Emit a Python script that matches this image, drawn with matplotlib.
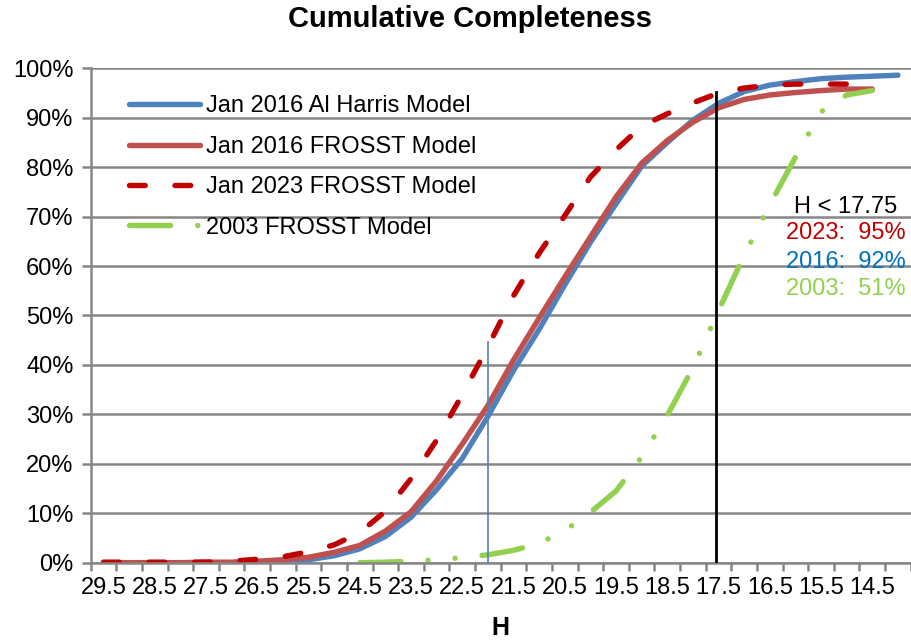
import matplotlib
matplotlib.use("Agg")
import matplotlib.pyplot as plt
from matplotlib.ticker import PercentFormatter
import numpy as np

plt.rcParams['font.family'] = ['Liberation Sans', 'DejaVu Sans']

# H magnitude bins (faint to bright, left to right)
h_bins = [29.5, 29.0, 28.5, 28.0, 27.5, 27.0, 26.5, 26.0, 25.5, 25.0, 24.5,
          24.0, 23.5, 23.0, 22.5, 22.0, 21.5, 21.0, 20.5, 20.0, 19.5, 19.0,
          18.5, 18.0, 17.5, 17.0, 16.5, 16.0, 15.5, 15.0, 14.5, 14.0]
h_labels = ['29.5', '28.5', '27.5', '26.5', '25.5', '24.5', '23.5', '22.5',
            '21.5', '20.5', '19.5', '18.5', '17.5', '16.5', '15.5', '14.5']

nan = np.nan
# cumulative completeness, percent
harris_2016 = [0, 0, 0, 0, 0, 0, 0.1, 0.2, 0.6, 1.4, 2.8, 5.3, 9.2, 14.8, 21.1,
               29.6, 38.9, 47.2, 56.2, 64.8, 72.6, 80.2, 85.0, 89.5, 92.9,
               95.3, 96.6, 97.3, 97.9, 98.2, 98.4, 98.6]
frosst_2016 = [0, 0, 0, 0, 0.1, 0.1, 0.3, 0.6, 1.1, 2.1, 3.5, 6.4, 10.3, 16.6,
               24.0, 31.8, 41.0, 49.5, 57.8, 65.9, 74.0, 80.8, 85.4, 89.1,
               92.0, 93.7, 94.6, 95.1, 95.5, 95.8, 95.8, nan]
frosst_2023 = [0.1, 0.1, 0.1, 0.1, 0.1, 0.3, 0.7, 1.2, 2.2, 3.6, 6.1, 10.4,
               17.0, 24.8, 34.0, 43.7, 54.0, 62.6, 70.2, 78.0, 83.5, 88.3,
               90.8, 93.0, 95.0, 96.0, 96.6, 96.8, 96.8, 96.8, 96.8, nan]
frosst_2003 = [nan, nan, nan, nan, nan, nan, nan, nan, nan, nan, 0.0, 0.1,
               0.3, 0.6, 1.0, 1.6, 2.5, 3.9, 6.5, 10.2, 14.5, 21.4, 29.8,
               39.4, 51.0, 62.2, 72.4, 82.0, 91.2, 94.6, 95.5, nan]

# reference markers
h_cut = 17.55
cut_top = 95.3
h_mid = 22.0
mid_top = 44.7

GRID = '#868686'

fig = plt.figure(figsize=(9.12, 6.4), dpi=100)
ax = fig.add_axes([0.0995, 0.1208, 0.8991, 0.7725])

ax.plot(h_bins, harris_2016, color='#4F81BD', lw=3.9,
        solid_capstyle='round', solid_joinstyle='round',
        label='Jan 2016 Al Harris Model')
ax.plot(h_bins, frosst_2016, color='#C0504D', lw=3.9,
        solid_capstyle='round', solid_joinstyle='round',
        label='Jan 2016 FROSST Model')
ax.plot(h_bins, frosst_2023, color='#C00000', lw=3.9,
        dashes=(2.9, 5.5), dash_capstyle='round', solid_joinstyle='round',
        label='Jan 2023 FROSST Model')
ax.plot(h_bins, frosst_2003, color='#92D050', lw=3.9,
        dashes=(7.6, 5.0, 0.01, 5.0, 0.01, 5.0), dash_capstyle='round',
        label='2003 FROSST Model')

ax.plot([h_mid, h_mid], [0, mid_top], color='#4F81BD', lw=1.2, zorder=3)
ax.plot([h_cut, h_cut], [0, cut_top], color='black', lw=2.0, zorder=4)

ax.set_xlim(29.75, 13.75)
ax.set_ylim(0, 100)

ax.set_yticks(range(0, 101, 10))
ax.yaxis.set_major_formatter(PercentFormatter(decimals=0))
ax.yaxis.grid(True, color=GRID, lw=1.8)
ax.set_axisbelow(True)

ax.set_xticks([float(s) for s in h_labels])
ax.set_xticklabels(h_labels)
edges = [h + 0.25 for h in h_bins] + [h_bins[-1] - 0.25]
ax.set_xticks(edges, minor=True)

for side in ('top', 'right'):
    ax.spines[side].set_visible(False)
for side in ('left', 'bottom'):
    ax.spines[side].set_color(GRID)
    ax.spines[side].set_linewidth(1.8)

ax.tick_params(axis='y', length=6.5, width=1.8, color=GRID,
               labelsize=17, pad=6)
ax.tick_params(axis='x', which='major', length=0, labelsize=17, pad=10)
ax.tick_params(axis='x', which='minor', length=6, width=1.8, color=GRID)

leg = ax.legend(loc='upper left', bbox_to_anchor=(0.0467, 0.945),
                frameon=False, fontsize=17, handlelength=3.0,
                handletextpad=0.25, labelspacing=0.78, borderpad=0,
                borderaxespad=0)

notes = [('H < 17.75', 'black', 0.720),
         ('2023:  95%', '#C00000', 0.666),
         ('2016:  92%', '#0070C0', 0.609),
         ('2003:  51%', '#92D050', 0.553)]
for txt, col, yy in notes:
    ax.text(0.921, yy, txt, transform=ax.transAxes, ha='center',
            va='center', fontsize=17, color=col)

fig.text(470 / 912, 1 - 19 / 640, 'Cumulative Completeness', ha='center',
         va='center', fontsize=21, fontweight='bold')
fig.text(500 / 912, 1 - 628 / 640, 'H', ha='center', va='center',
         fontsize=18, fontweight='bold')

fig.savefig('out.png', dpi=100)
